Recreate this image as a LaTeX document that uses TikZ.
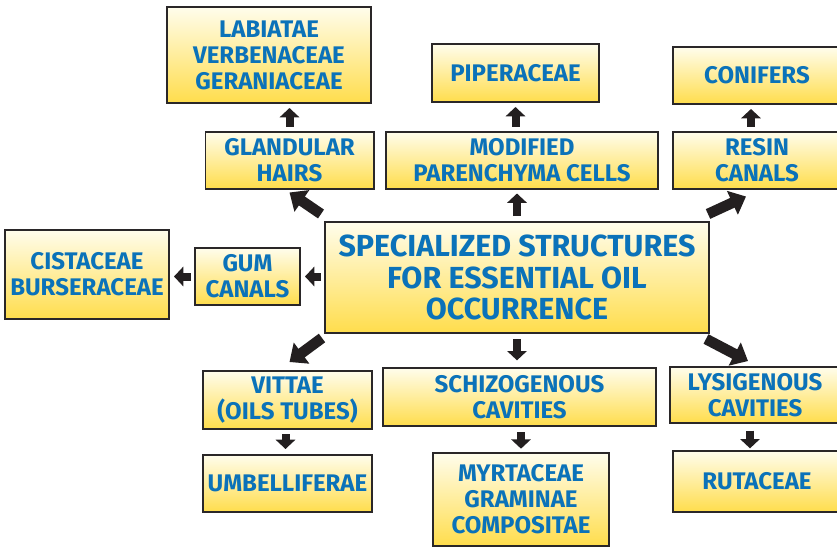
\documentclass[tikz,border=0pt]{standalone}
\usepackage{fontspec}
\setmainfont{Fira Sans}
\usetikzlibrary{arrows.meta}

\definecolor{txtblue}{HTML}{0B72B9}
\definecolor{boxtop}{HTML}{FFFDEC}
\definecolor{boxbot}{HTML}{FFDD4C}
\definecolor{boxline}{HTML}{2A2728}
\definecolor{arrowcol}{HTML}{231F20}

\tikzset{
  box/.style={draw=boxline, line width=1.7pt, top color=boxtop, bottom color=boxbot,
    text=txtblue, align=center, inner sep=0pt,
    font=\bfseries\fontsize{20.5}{22.1}\selectfont},
  bigbox/.style={box, font=\bfseries\fontsize{26}{27.2}\selectfont},
  sz/.style 2 args={minimum width=#1*0.03cm, minimum height=#2*0.03cm},
  arr/.style={draw=arrowcol, line width=0.24cm,
    -{Triangle[width=0.58cm,length=0.28cm]}},
  bigarr/.style={draw=arrowcol, line width=0.32cm,
    -{Triangle[width=0.76cm,length=0.45cm]}}
}

\begin{document}
\begin{tikzpicture}[x=0.03cm, y=-0.03cm]
  \useasboundingbox (0,0) rectangle (837,547);
  \clip (0,0) rectangle (837,547);
  \fill[white] (0,0) rectangle (837,547);

  % centre
  \node[bigbox, sz={384}{111}] (main) at (517,277.5)
    {SPECIALIZED STRUCTURES\\FOR ESSENTIAL OIL\\OCCURRENCE};

  % upper row
  \node[box, sz={168}{57}] (glandular) at (289.5,160) {GLANDULAR\\HAIRS};
  \node[box, sz={272}{57}] (modified) at (522,160) {MODIFIED\\PARENCHYMA CELLS};
  \node[box, sz={168}{57}] (resin) at (757,160) {RESIN\\CANALS};
  \node[box, sz={204}{96}] (labiatae) at (269,55) {LABIATAE\\VERBENACEAE\\GERANIACEAE};
  \node[box, sz={167}{58}] (piper) at (515.5,73) {PIPERACEAE};
  \node[box, sz={168}{57}] (conifers) at (757,75.5) {CONIFERS};

  % left
  \node[box, sz={105}{57}] (gum) at (247.5,276.5) {GUM\\CANALS};
  \node[box, sz={164}{89}] (cistaceae) at (87,274.5) {CISTACEAE\\BURSERACEAE};

  % lower row
  \node[box, sz={169}{58}] (vittae) at (287.5,400) {VITTAE\\(OILS TUBES)};
  \node[box, sz={273}{58}] (schizo) at (519.5,397) {SCHIZOGENOUS\\CAVITIES};
  \node[box, sz={170}{56}] (lysi) at (755,395) {LYSIGENOUS\\CAVITIES};
  \node[box, sz={169}{57}] (umbel) at (287.5,483.5) {UMBELLIFERAE};
  \node[box, sz={176}{93}] (myrt) at (521,499.5) {MYRTACEAE\\GRAMINAE\\COMPOSITAE};
  \node[box, sz={168}{61}] (ruta) at (757,481.5) {RUTACEAE};

  % arrows out of the centre
  \draw[arr, shorten <=0.15cm, shorten >=0.12cm] (main.north) -- (main.north |- modified.south);
  \draw[arr, shorten <=0.15cm, shorten >=0.2cm] (main.south) -- (main.south |- schizo.north);
  \draw[arr, shorten <=0.1cm, shorten >=0.12cm] (main.west |- gum.east) -- (gum.east);
  \draw[bigarr] ([shift={(-3,-7)}]main.north west) -- ([shift={(0,3)}]glandular.south);
  \draw[bigarr] ([shift={(-2,-7)}]main.north east) -- ([shift={(-11,7)}]resin.south);
  \draw[bigarr] ([shift={(-2,4)}]main.south west) -- ([shift={(2,-8)}]vittae.north);
  \draw[bigarr] ([shift={(-4,5)}]main.south east) -- ([shift={(-7,-5)}]lysi.north);

  % arrows to the families
  \draw[arr, shorten <=0.12cm, shorten >=0.12cm] (glandular.north) -- (glandular.north |- labiatae.south);
  \draw[arr, shorten <=0.12cm, shorten >=0.12cm] (modified.north -| piper.south) -- (piper.south);
  \draw[arr, shorten <=0.12cm, shorten >=0.12cm] ([xshift=-6*0.03cm]resin.north) -- ([xshift=-6*0.03cm]conifers.south);
  \draw[arr, shorten <=0.1cm, shorten >=0.12cm] (gum.west) -- (gum.west -| cistaceae.east);
  \draw[arr, shorten <=0.12cm, shorten >=0.15cm] ([xshift=-2*0.03cm]vittae.south) -- ([xshift=-2*0.03cm]umbel.north);
  \draw[arr, shorten <=0.15cm, shorten >=0.1cm] (schizo.south -| myrt.north) -- (myrt.north);
  \draw[arr, shorten <=0.2cm, shorten >=0.05cm] ([xshift=-5*0.03cm]lysi.south) -- ([xshift=-5*0.03cm]lysi.south |- ruta.north);
\end{tikzpicture}
\end{document}
